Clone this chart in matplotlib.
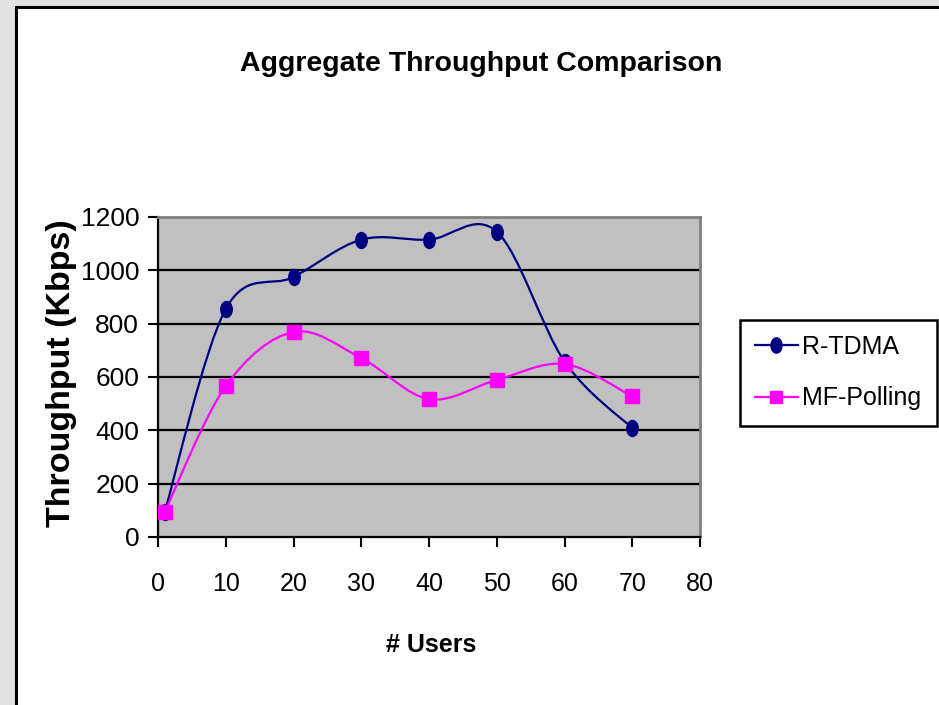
import numpy as np
import matplotlib
matplotlib.use("Agg")
import matplotlib.pyplot as plt
from matplotlib.path import Path
from matplotlib.patches import PathPatch, Rectangle
from matplotlib.lines import Line2D
from matplotlib import font_manager

# ---- data ----
users = [1, 10, 20, 30, 40, 50, 60, 70]
rtdma = [95, 855, 975, 1115, 1115, 1145, 658, 408]
mfpolling = [95, 566, 769, 671, 517, 589, 649, 527]
series_names = ["R-TDMA", "MF-Polling"]
x_ticks = [0, 10, 20, 30, 40, 50, 60, 70, 80]
y_ticks = [0, 200, 400, 600, 800, 1000, 1200]
title = "Aggregate Throughput Comparison"
x_label = "# Users"
y_label = "Throughput (Kbps)"

available = {f.name for f in font_manager.fontManager.ttflist}
if "Liberation Sans Narrow" in available:
    NARROW = ["Liberation Sans Narrow", "DejaVu Sans"]
    scale = 1.2
else:
    NARROW = ["Liberation Sans", "DejaVu Sans"]
    scale = 1.0
WIDE = ["Liberation Sans", "DejaVu Sans"]

W, H = 939, 705
fig = plt.figure(figsize=(W / 100, H / 100), dpi=100)
fig.patch.set_facecolor("#e2e2e2")

# white chart panel with black border
panel = Rectangle((15.5 / W, -0.02), 1.1, (H - 7) / H + 0.02, transform=fig.transFigure,
                  facecolor="white", edgecolor="black", lw=2.2, zorder=-5)
fig.patches.append(panel)

ax = fig.add_axes([158 / W, 1 - 537 / H, (700 - 158) / W, (537 - 217) / H])
ax.set_zorder(1)
ax.set_facecolor("#c0c0c0")
ax.set_xlim(0, 80)
ax.set_ylim(0, 1200)
ax.set_xticks(x_ticks)
ax.set_yticks(y_ticks)
ax.set_xticklabels([str(v) for v in x_ticks], family=NARROW, fontsize=18 * scale)
ax.set_yticklabels([str(v) for v in y_ticks], family=NARROW, fontsize=19 * scale)
ax.tick_params(axis="x", direction="out", length=7, width=1.5, pad=18.5)
ax.tick_params(axis="y", direction="out", length=7, width=1.5, pad=6.5)

for v in y_ticks[1:-1]:
    ax.axhline(v, color="black", lw=1.6, zorder=1)

ax.spines["left"].set_color("black")
ax.spines["left"].set_linewidth(1.6)
ax.spines["bottom"].set_color("black")
ax.spines["bottom"].set_linewidth(1.6)
ax.spines["top"].set_color("#808080")
ax.spines["top"].set_linewidth(2)
ax.spines["right"].set_color("#808080")
ax.spines["right"].set_linewidth(2)


def smooth_path(xs, ys):
    pts = np.column_stack([xs, ys]).astype(float)
    n = len(pts)
    verts = [pts[0]]
    codes = [Path.MOVETO]
    for i in range(n - 1):
        p0 = pts[i - 1] if i > 0 else pts[i]
        p1 = pts[i]
        p2 = pts[i + 1]
        p3 = pts[i + 2] if i + 2 < n else pts[i + 1]
        c1 = p1 + (p2 - p0) / 6.0
        c2 = p2 - (p3 - p1) / 6.0
        verts += [c1, c2, p2]
        codes += [Path.CURVE4] * 3
    return Path(verts, codes)


circ = Path.unit_circle()
ellipse_marker = Path(circ.vertices * np.array([0.72, 1.0]), circ.codes)

navy = "#000080"
magenta = "#ff00ff"

ax.add_patch(PathPatch(smooth_path(users, rtdma), facecolor="none", edgecolor=navy,
                       lw=1.6, zorder=3, capstyle="round", joinstyle="round"))
ax.plot(users, rtdma, ls="none", marker=ellipse_marker, markersize=11.5,
        color=navy, zorder=4)
ax.add_patch(PathPatch(smooth_path(users, mfpolling), facecolor="none", edgecolor=magenta,
                       lw=1.6, zorder=5, capstyle="round", joinstyle="round"))
ax.plot(users, mfpolling, ls="none", marker="s", markersize=9.5,
        color=magenta, zorder=6)

handles = [
    Line2D([], [], color=navy, lw=1.6, marker=ellipse_marker, markersize=11),
    Line2D([], [], color=magenta, lw=1.6, marker="s", markersize=8),
]
leg = fig.legend(handles, series_names, loc="upper left",
                 bbox_to_anchor=(740 / W, 1 - 320 / H), borderaxespad=0,
                 prop={"family": NARROW, "size": 18 * scale}, frameon=True, fancybox=False,
                 handlelength=1.7, handletextpad=0.2, labelspacing=1.1,
                 borderpad=0.6)
leg.set_zorder(10)
leg.get_frame().set_edgecolor("black")
leg.get_frame().set_linewidth(1.8)
leg.get_frame().set_facecolor("white")
leg.get_frame().set_alpha(1)

fig.text(481 / W, 1 - 64 / H, title, ha="center", va="center",
         family=NARROW, fontweight="bold", fontsize=20.5 * scale)
fig.text(431 / W, 1 - 645 / H, x_label, ha="center", va="center",
         family=NARROW, fontweight="bold", fontsize=18 * scale)
fig.text(62 / W, 1 - 373 / H, y_label, ha="center", va="center", rotation=90,
         family=WIDE, fontweight="bold", fontsize=24.5)

fig.savefig("out.png", dpi=100, facecolor=fig.get_facecolor())
